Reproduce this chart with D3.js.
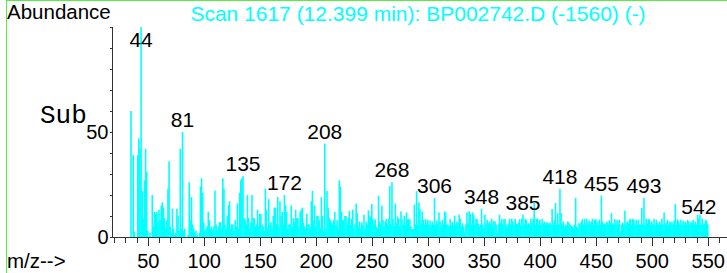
<!DOCTYPE html>
<meta charset="utf-8">
<style>
  body { margin: 0; background: #fff; }
  svg { display: block; font-family: "Liberation Sans", Arial, sans-serif; }
  .frame { stroke: #55ee44; fill: none; shape-rendering: crispEdges; }
  .axis-line { stroke: #333; shape-rendering: crispEdges; }
  .axis path { display: none; }
  .axis line { stroke: #333; shape-rendering: crispEdges; }
  .axis text { font-size: 20px; fill: #000; font-family: "Liberation Sans", Arial, sans-serif; }
  .bar { fill: #00ffff; }
  .label { font-size: 20.5px; fill: #000; }
  .peak-label { font-size: 21px; fill: #000; text-anchor: middle; }
  .title { font-size: 21px; fill: #00ffff; text-anchor: middle; }
  .sub { font-family: "Liberation Mono", "Courier New", monospace; font-size: 26px; fill: #000; }
</style>
<body>
<div id="vis"></div>
<script src="https://cdn.jsdelivr.net/npm/d3@7"></script>
<script>

const width = 727,
    height = 273;

// first m/z in the spectrum, one abundance per unit mass after it
const firstMz = 35;
const abundance = [
  /* 35 */ 60, 0, 39, 2.5, 0,
  /* 40 */ 0, 39, 47, 42, 100, 22, 9, 27, 42, 31,
  /* 50 */ 3, 0, 2, 0, 20, 5, 12, 11, 12, 7,
  /* 60 */ 13, 8, 15, 16.5, 14, 9, 4, 8, 23, 36,
  /* 70 */ 5, 2, 13.5, 4, 1, 2, 13.5, 10, 3, 42,
  /* 80 */ 4, 50, 3, 4, 0, 0, 1, 26, 8, 19,
  /* 90 */ 6, 4, 2, 3, 1, 0, 2, 24, 28, 21,
  /* 100 */ 7, 3, 4, 5, 12, 8, 4, 5, 3, 5,
  /* 110 */ 22, 6, 3, 5, 7, 7, 4, 28, 23, 6,
  /* 120 */ 4, 10, 15, 17, 4, 6, 6, 3, 8, 5,
  /* 130 */ 16, 4, 21, 27, 28, 29, 9, 8, 6, 20,
  /* 140 */ 9, 4, 7, 20, 9, 9, 5, 6, 13, 5,
  /* 150 */ 11, 11, 6, 5, 3, 23, 13, 4, 18, 6,
  /* 160 */ 7, 4, 10, 14, 14, 6, 19, 5, 17, 10,
  /* 170 */ 12, 6, 20, 15, 12, 4, 6, 6, 15, 5,
  /* 180 */ 9, 7, 13, 9, 9, 5, 12, 13, 14, 7,
  /* 190 */ 5, 4, 11, 6, 6, 4, 17, 22, 8, 15,
  /* 200 */ 5, 10, 10, 8, 4, 19, 10, 3, 44.5, 4,
  /* 210 */ 22, 14, 9, 8, 7, 6, 8, 12, 6, 8,
  /* 220 */ 4, 27, 24, 12, 8, 8, 10, 10, 6, 9,
  /* 230 */ 12.5, 6, 8.7, 13, 4, 6, 15.9, 11.4, 5, 7.4,
  /* 240 */ 4, 6.9, 5.5, 10.6, 4, 7.4, 6, 12.7, 10.1, 9.4,
  /* 250 */ 15.7, 8.7, 6, 8.4, 5, 4, 19.7, 7.4, 6, 14.9,
  /* 260 */ 8.2, 5, 7.4, 8.7, 6, 8.7, 24.2, 6, 26.1, 8.7,
  /* 270 */ 5, 15.9, 6.5, 9.8, 8.7, 5, 12.2, 8.6, 6, 10.1,
  /* 280 */ 6, 11.7, 8.5, 8.7, 8.2, 5, 3.8, 3.8, 15.4, 6,
  /* 290 */ 21.8, 6, 16.5, 13.3, 6.5, 12.2, 8.2, 6, 8.5, 6.5,
  /* 300 */ 8.2, 6, 7.9, 5.5, 7.4, 6, 18.6, 6, 7.9, 6.5,
  /* 310 */ 11.7, 7.4, 5, 8.2, 6, 12.2, 11.7, 6, 5.8, 5,
  /* 320 */ 8.5, 6, 7.4, 5.5, 10.1, 6, 7.4, 6.5, 10.6, 8.7,
  /* 330 */ 5, 6.6, 5, 2.1, 6, 11.8, 6.5, 12.2, 10.9, 6,
  /* 340 */ 11.7, 10.6, 6, 8.7, 8.5, 6.5, 5, 6, 13.5, 6,
  /* 350 */ 4.2, 10.6, 6, 8.2, 6.5, 7.4, 6, 8.7, 5.5, 7.7,
  /* 360 */ 7.4, 6, 2.1, 6, 10.6, 6.5, 8.5, 6, 8.5, 8.5,
  /* 370 */ 6, 5, 6.5, 8.7, 6, 8.7, 7.4, 6, 8.7, 6.2,
  /* 380 */ 6, 6.9, 8.5, 5.5, 8.7, 10.6, 6, 8.7, 8.2, 6,
  /* 390 */ 6.6, 6, 8.7, 6.5, 8.7, 16.2, 6, 8.7, 8.7, 6,
  /* 400 */ 8.2, 6, 8.7, 6.5, 7.4, 6, 6.9, 6.9, 6, 6.9,
  /* 410 */ 6, 13.3, 6, 8.2, 16.2, 6, 11.4, 6, 22.9, 11.4,
  /* 420 */ 6, 7.4, 4.7, 6, 5.5, 7.4, 6.9, 6, 5.3, 5,
  /* 430 */ 4.2, 6, 18.6, 5, 4.2, 6.6, 6, 7.4, 8.5, 6,
  /* 440 */ 8.7, 6, 8.7, 6.5, 7.9, 6, 7.4, 8.7, 6, 8.2,
  /* 450 */ 8.5, 7.4, 6, 8.2, 6, 19.7, 7.4, 6, 6.6, 6,
  /* 460 */ 7.4, 6, 7.9, 6.5, 11.4, 6.6, 6, 8.5, 6, 8.2,
  /* 470 */ 6, 8.2, 2.7, 6, 6.9, 6, 12.5, 6, 7.4, 6.5,
  /* 480 */ 8.2, 8.7, 6, 8.7, 8.2, 6, 8.2, 6, 8.2, 6,
  /* 490 */ 6, 13.8, 6, 18.6, 6, 8.7, 6.5, 8.7, 8.2, 6,
  /* 500 */ 7.4, 6, 8.7, 6, 8.2, 6.6, 6, 7.4, 6, 8.7,
  /* 510 */ 6, 11.7, 6, 6.9, 8.2, 6, 7.4, 6.5, 7.4, 6,
  /* 520 */ 7.9, 15.7, 6, 8.5, 7.4, 6, 8.2, 6, 7.9, 6,
  /* 530 */ 7.4, 6, 8.2, 7.4, 6, 7.4, 6.5, 8.2, 6, 7.4,
  /* 540 */ 6, 10.6, 8.7, 10.6, 6, 8.7, 6, 6.5, 8.2, 7.7,
  /* 550 */ 6
];

const peakLabels = [44, 81, 135, 172, 208, 268, 306, 348, 385, 418, 455, 493, 542];
const xMajorTicks = [50, 100, 150, 200, 250, 300, 350, 400, 450, 500, 550];
const xMinorTicks = [20, 30, 40, 60, 70, 80, 90, 110, 120, 130, 140, 160, 170, 180, 190,
  210, 220, 230, 240, 260, 270, 280, 290, 310, 320, 330, 340, 360, 370, 380, 390,
  410, 420, 430, 440, 460, 470, 480, 490, 510, 520, 530, 540, 560];
const yTicks = [0, 10, 20, 30, 40, 50, 60, 70, 80, 90, 100];
const yLabelled = [0, 50];

const titleText = 'Scan 1617 (12.399 min): BP002742.D (-1560) (-)';

const spectrum = abundance.map((v, i) => ({mz: firstMz + i, value: v}));

const xScale = d3.scaleLinear().domain([20, 560]).range([114.2, 719]);
const yScale = d3.scaleLinear().domain([0, 100]).range([237, 27]);

const svg = d3.select('#vis')
  .append('svg')
  .attr('width', width)
  .attr('height', height);

// green frame
svg.append('path')
  .attr('class', 'frame')
  .attr('d', 'M6.5,' + height + ' L6.5,0.5 L' + width + ',0.5');

// bars
svg.append('g')
  .attr('class', 'bars')
  .selectAll('rect')
  .data(spectrum.filter(d => d.value > 0))
  .enter().append('rect')
  .attr('class', 'bar')
  .attr('x', d => xScale(d.mz) - 0.8)
  .attr('width', 1.6)
  .attr('y', d => yScale(d.value))
  .attr('height', d => yScale(0) - yScale(d.value));

// x axis
const xAxisG = svg.append('g')
  .attr('class', 'axis')
  .attr('transform', 'translate(0,' + (yScale(0) + 0.5) + ')');
xAxisG.append('g')
  .call(d3.axisBottom(xScale).tickValues(xMajorTicks).tickSize(8).tickPadding(8).tickFormat(d3.format('d')));
xAxisG.append('g')
  .call(d3.axisBottom(xScale).tickValues(xMinorTicks).tickSize(5).tickFormat(''));
svg.append('line')
  .attr('class', 'axis-line')
  .attr('x1', 112)
  .attr('x2', width)
  .attr('y1', yScale(0) + 0.5)
  .attr('y2', yScale(0) + 0.5);

// y axis
const yAxisG = svg.append('g')
  .attr('class', 'axis')
  .attr('transform', 'translate(112.5,0)');
yAxisG.call(d3.axisLeft(yScale).tickValues(yTicks).tickSize(3).tickPadding(1)
  .tickFormat(d => yLabelled.includes(d) ? d : ''));
svg.append('line')
  .attr('class', 'axis-line')
  .attr('x1', 112.5)
  .attr('x2', 112.5)
  .attr('y1', yScale(100))
  .attr('y2', yScale(0) + 1);

// peak labels
svg.append('g')
  .selectAll('text')
  .data(peakLabels)
  .enter().append('text')
  .attr('class', 'peak-label')
  .attr('x', d => xScale(d))
  .attr('y', d => Math.max(yScale(spectrum[d - firstMz].value) - 5, 47))
  .text(d => d);

// texts
svg.append('text')
  .attr('class', 'label')
  .attr('x', 7)
  .attr('y', 19)
  .text('Abundance');
svg.append('text')
  .attr('class', 'title')
  .attr('x', 418)
  .attr('y', 21)
  .text(titleText);
svg.append('text')
  .attr('class', 'sub')
  .attr('x', 40)
  .attr('y', 123)
  .text('Sub');
svg.append('text')
  .attr('class', 'label')
  .attr('x', 7)
  .attr('y', 268)
  .text('m/z-->');

</script>
</body>
